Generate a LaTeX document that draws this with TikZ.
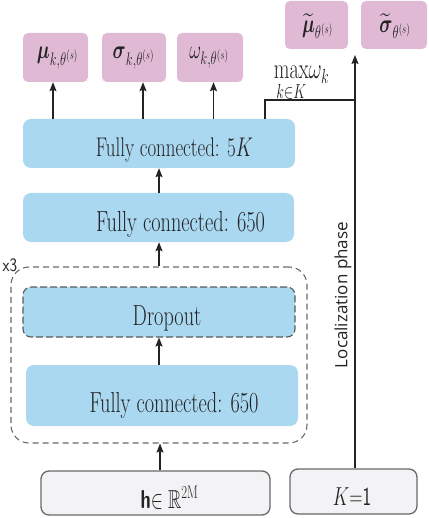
\RequirePackage{fix-cm}
\documentclass[tikz,border=0pt]{standalone}
\usepackage{amsmath,amssymb}
\usepackage{graphicx}
\usepackage{fontspec}
\newfontfamily\locfont{Open Sans}
\usetikzlibrary{arrows.meta}
\newcommand{\sq}[1]{\scalebox{0.7}[1]{#1}}
\definecolor{blueF}{RGB}{171,216,241}
\definecolor{pinkF}{RGB}{224,186,212}
\definecolor{grayF}{RGB}{243,243,245}
\definecolor{boxD}{RGB}{105,105,105}
\definecolor{txt}{RGB}{35,35,35}
\tikzset{
  blk/.style={inner sep=0pt, fill=blueF, rounded corners=8pt},
  pk/.style={inner sep=0pt, fill=pinkF, rounded corners=5pt, minimum height=49pt},
  inp/.style={inner sep=0pt, fill=grayF, draw=boxD, line width=1.3pt, rounded corners=8pt},
  lbl/.style={inner sep=0pt, text=txt, font=\fontsize{29}{34}\selectfont},
  lbls/.style={inner sep=0pt, text=txt, font=\fontsize{26}{30}\selectfont},
  arr/.style={-{Stealth[length=9pt,width=7pt,inset=1.5pt]}, line width=1.4pt, draw=txt},
  ln/.style={line width=1.1pt, draw=txt}
}
\begin{document}
\begin{tikzpicture}[x=1pt,y=-1pt]
\useasboundingbox (0,0) rectangle (428,518);
% output boxes
\node[pk, minimum width=65pt] (mu) at (55.5,57.5) {};
\node[pk, minimum width=64pt] (sig) at (134,57.5) {};
\node[pk, minimum width=66pt] (om) at (210,57.5) {};
\node[pk, minimum width=63pt, minimum height=48pt] (mut) at (316.5,25) {};
\node[pk, minimum width=66pt, minimum height=48pt] (sigt) at (394,25) {};
\node[lbls] (mul) at (57.5,58) {\sq{$\boldsymbol{\mu}_{k,\theta^{(s)}}$}};
\node[lbls] (sigl) at (133.5,58) {\sq{$\boldsymbol{\sigma}_{k,\theta^{(s)}}$}};
\node[lbls] (oml) at (209,58) {\sq{$\omega_{k,\theta^{(s)}}$}};
\node[lbls] (mutl) at (317.5,26) {\sq{$\widetilde{\boldsymbol{\mu}}_{\theta^{(s)}}$}};
\node[lbls] (sigtl) at (395,26) {\sq{$\widetilde{\boldsymbol{\sigma}}_{\theta^{(s)}}$}};
% network blocks
\node[blk, minimum width=272pt, minimum height=49pt] (fc5k) at (159,143.5) {};
\node[blk, minimum width=271pt, minimum height=49pt] (fc650) at (158.5,217.5) {};
\node[inner sep=0pt, draw=boxD, line width=1.1pt, dash pattern=on 6pt off 4pt, rounded corners=18pt, minimum width=296pt, minimum height=176pt] (outer) at (159,355) {};
\node[blk, draw=boxD!85!black, line width=1.1pt, dash pattern=on 7pt off 3pt, minimum width=272pt, minimum height=50pt] (drop) at (159,312) {};
\node[blk, minimum width=272pt, minimum height=61pt] (fc650b) at (162,395.5) {};
\node[inp, minimum width=229pt, minimum height=44pt] (hbox) at (155.5,493) {};
\node[inp, minimum width=127pt, minimum height=45pt] (kbox) at (353.5,491.5) {};
% labels
\node[lbl, anchor=base, font=\fontsize{27}{32}\selectfont] (fc5kl) at (174.5,157) {\sq{Fully connected: $5K$}};
\node[lbl, anchor=base] (fc650l) at (180.5,231) {\sq{Fully connected: 650}};
\node[lbl, anchor=base] (dropl) at (167,325) {\sq{Dropout}};
\node[lbl, anchor=base] (fc650bl) at (174,412) {\sq{Fully connected: 650}};
\node[lbls, anchor=base] (hl) at (169.5,508) {\sq{\textsf{\textbf{h}}$\in\mathbb{R}^{\mathrm{2M}}$}};
\node[lbls, anchor=base] (kl) at (352,505) {\sq{$K$\textsf{=1}}};
\node[lbl] (maxl) at (301.5,84) {\sq{$\max\limits_{k\in K}\!\omega_k$}};
\node[inner sep=0pt, text=txt, rotate=90, font=\locfont\fontsize{17}{20}\selectfont] (loc) at (343,295) {Localization phase};
\node[inner sep=0pt, text=txt, font=\sffamily\fontsize{19}{22}\selectfont] (x3) at (10,265) {\scalebox{0.85}[1]{x3}};
% arrows
\coordinate (a1) at ([xshift=-2.5pt]mu.south);
\coordinate (a2) at ([xshift=9pt]sig.south);
\coordinate (a3) at ([xshift=3.5pt]om.south);
\draw[arr] (a1 |- fc5k.north) -- (a1);
\draw[arr] (a2 |- fc5k.north) -- (a2);
\draw[arr] (a3 |- fc5k.north) -- (a3);
\draw[arr] (fc5k.south |- fc650.north) -- (fc5k.south);
\draw[arr] (outer.north) -- (outer.north |- fc650.south);
\draw[arr] (fc650b.north -| drop.south) -- (drop.south);
\draw[arr] ([xshift=1pt]outer.south |- hbox.north) -- ([xshift=1pt]outer.south);
% right branch
\coordinate (lx) at (265,100);
\coordinate (jx) at (355,100);
\coordinate (tip) at (355,55);
\draw[ln] (lx |- fc5k.north) -- (lx) -- (jx);
\draw[ln] (kbox.north -| jx) -- (jx);
\draw[arr, line width=1.1pt] (jx) -- (tip);
\end{tikzpicture}
\end{document}
